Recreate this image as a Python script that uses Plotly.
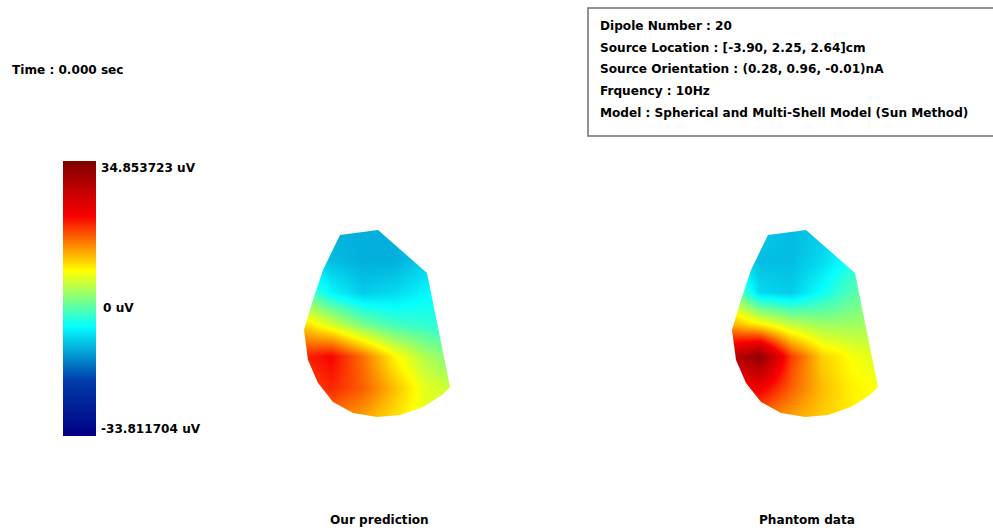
import plotly.graph_objects as go

W, H = 993, 531

# Potential range of the topographies (uV)
V_MAX = 34.853723
V_MIN = -33.811704

# Sampling grid of the maps (local screen coordinates, px)
grid_x = [300, 331, 362, 393, 424, 455]
grid_y = [228, 260, 292, 324, 356, 388, 420]

# Potentials (uV) on the grid, one row per grid_y entry
pred_uv = [
    [-10, -12, -12, -12, -10, -8],
    [-8, -11, -12, -12, -10, -8],
    [-1, -7, -10, -9, -7, -5],
    [10, 5, 0, -3, -4, -5],
    [19, 21, 15, 8, 3, 0],
    [17, 19, 16, 11, 6, 4],
    [13, 14, 12, 9, 6, 5],
]
phantom_uv = [
    [-8, -10, -11, -10, -8, -6],
    [-8, -11, -11, -9, -5, -3],
    [2, -9, -10, -6, -2, 0],
    [12, 8, 4, 2, 2, 3],
    [27, 33, 18, 10, 7, 5],
    [20, 22, 16, 11, 8, 7],
    [14, 14, 12, 10, 8, 7],
]

# Head outline seen from the side (local coordinates, px)
outline = [
    (340, 235), (378, 230), (427, 273), (450, 387), (442, 395),
    (423, 407), (400, 415), (377, 417), (353, 413), (333, 402),
    (318, 383), (308, 360), (304, 330), (307, 320), (313, 300),
    (323, 270),
]

map_offsets = [0, 428]
map_titles = ["Our prediction", "Phantom data"]
map_values = [pred_uv, phantom_uv]

info_lines = [
    "Dipole Number : 20",
    "Source Location : [-3.90, 2.25, 2.64]cm",
    "Source Orientation : (0.28, 0.96, -0.01)nA",
    "Frquency : 10Hz",
    "Model : Spherical and Multi-Shell Model (Sun Method)",
]
time_label = "Time : 0.000 sec"

FONT = dict(family="DejaVu Sans", size=12.1, color="#000000")

fig = go.Figure()
shapes = []
annotations = []

for i, (dx, vals) in enumerate(zip(map_offsets, map_values)):
    fig.add_trace(go.Heatmap(
        x=[gx + dx for gx in grid_x],
        y=grid_y,
        z=vals,
        zmin=V_MIN, zmax=V_MAX,
        colorscale="Jet",
        zsmooth="best",
        showscale=(i == 0),
        hoverinfo="skip",
        colorbar=dict(
            x=63 / W, xanchor="left", xpad=0,
            y=1 - 161 / H, yanchor="top", ypad=0,
            thickness=33, thicknessmode="pixels",
            len=275, lenmode="pixels",
            outlinewidth=0, ticks="", showticklabels=False,
        ),
    ))
    # white mask outside the head outline
    x0, x1 = grid_x[0] - 25 + dx, grid_x[-1] + 25 + dx
    y0, y1 = grid_y[0] - 25, grid_y[-1] + 25
    poly = " L ".join(f"{px + dx},{py}" for px, py in outline)
    path = f"M {x0},{y0} L {x1},{y0} L {x1},{y1} L {x0},{y1} Z M {poly} Z"
    shapes.append(dict(type="path", path=path, xref="x", yref="y",
                       fillcolor="white", fillrule="evenodd",
                       line=dict(width=0), layer="above"))
    cx = (min(p[0] for p in outline) + max(p[0] for p in outline)) / 2 + dx
    annotations.append(dict(x=cx + 2, y=520, xref="x", yref="y",
                            text=f"<b>{map_titles[i]}</b>", showarrow=False,
                            xanchor="center", yanchor="middle", font=FONT))

# Colour bar labels
zero_y = 161 + 275 * V_MAX / (V_MAX - V_MIN)
annotations += [
    dict(x=99, y=159, text=f"<b>{V_MAX:.6f} uV</b>", yanchor="top"),
    dict(x=101, y=zero_y - 2, text="<b>0 uV</b>", yanchor="top"),
    dict(x=99, y=438, text=f"<b>{V_MIN:.6f} uV</b>", yanchor="bottom"),
]
for a in annotations[-3:]:
    a.update(xref="x", yref="y", showarrow=False, xanchor="left", font=FONT)

annotations.append(dict(x=10, y=70, xref="x", yref="y", text=f"<b>{time_label}</b>",
                        showarrow=False, xanchor="left", yanchor="middle", font=FONT))

# Info box
shapes.append(dict(type="rect", xref="x", yref="y", x0=588, x1=1000, y0=8, y1=136,
                   line=dict(color="#6e6e6e", width=1.5), fillcolor="rgba(0,0,0,0)",
                   layer="above"))
for k, line in enumerate(info_lines):
    annotations.append(dict(x=598, y=26 + 21.7 * k, xref="x", yref="y",
                            text=f"<b>{line}</b>", showarrow=False,
                            xanchor="left", yanchor="middle", font=FONT))

fig.update_layout(
    width=W, height=H,
    margin=dict(l=0, r=0, t=0, b=0),
    paper_bgcolor="white", plot_bgcolor="white",
    xaxis=dict(range=[0, W], visible=False, fixedrange=True),
    yaxis=dict(range=[H, 0], visible=False, fixedrange=True),
    shapes=shapes, annotations=annotations,
    showlegend=False,
)

fig.write_html("out.html")
